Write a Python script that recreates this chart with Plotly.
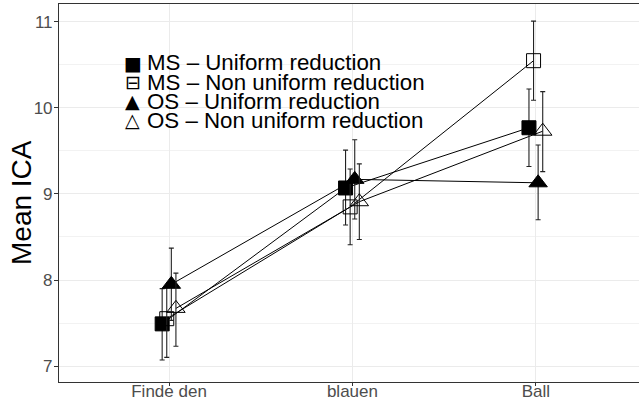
import plotly.graph_objects as go

categories = ["Finde den", "blauen", "Ball"]
series_names = [
    "MS – Uniform reduction",
    "MS – Non uniform reduction",
    "OS – Uniform reduction",
    "OS – Non uniform reduction",
]
ms_uniform_mean = [7.49, 9.07, 9.77]
ms_uniform_hi = [7.90, 9.51, 10.22]
ms_uniform_lo = [7.07, 8.64, 9.32]

ms_nonuniform_mean = [7.55, 8.85, 10.55]
ms_nonuniform_hi = [7.91, 9.29, 11.01]
ms_nonuniform_lo = [7.10, 8.41, 10.09]

os_uniform_mean = [7.95, 9.17, 9.13]
os_uniform_hi = [8.37, 9.63, 9.57]
os_uniform_lo = [7.53, 8.71, 8.70]

os_nonuniform_mean = [7.67, 8.91, 9.73]
os_nonuniform_hi = [8.08, 9.35, 10.19]
os_nonuniform_lo = [7.23, 8.47, 9.26]

y_ticks = [7, 8, 9, 10, 11]
y_title = "Mean ICA"

means = [ms_uniform_mean, ms_nonuniform_mean, os_uniform_mean, os_nonuniform_mean]
his = [ms_uniform_hi, ms_nonuniform_hi, os_uniform_hi, os_nonuniform_hi]
los = [ms_uniform_lo, ms_nonuniform_lo, os_uniform_lo, os_nonuniform_lo]

symbols = ["square", "square-open", "triangle-up", "triangle-up-open"]
sizes = [14, 14, 16, 16]
dodge = [-0.0375, -0.0125, 0.0125, 0.0375]
legend_glyphs = ["■", "⊟", "▲", "△"]

fig = go.Figure()

for i in range(4):
    xs = [j + dodge[i] for j in range(len(categories))]
    fig.add_trace(go.Scatter(
        x=xs, y=means[i], mode="lines",
        line=dict(color="black", width=1), showlegend=False, hoverinfo="skip"))

for i in range(4):
    xs = [j + dodge[i] for j in range(len(categories))]
    fig.add_trace(go.Scatter(
        x=xs, y=means[i], mode="markers", name=series_names[i],
        marker=dict(symbol=symbols[i], size=sizes[i], color="black",
                    line=dict(color="black", width=1)),
        error_y=dict(type="data", symmetric=False,
                     array=[h - m for h, m in zip(his[i], means[i])],
                     arrayminus=[m - l for m, l in zip(means[i], los[i])],
                     color="#222222", thickness=1.1, width=2.5),
        showlegend=False))

L, R, T, B = 59, 639, 4, 382
W, H = R - L, B - T
row_y = [62.5, 82.0, 101.2, 120.2]
for i in range(4):
    yp = (B - row_y[i]) / H
    fig.add_annotation(x=(132.5 - L) / W, y=yp, xref="paper", yref="paper",
                       text=legend_glyphs[i], showarrow=False, xanchor="center",
                       yanchor="middle", font=dict(family="DejaVu Sans", size=19, color="black"))
    fig.add_annotation(x=(144.5 - L) / W, y=yp, xref="paper", yref="paper",
                       text=series_names[i], showarrow=False, xanchor="left",
                       yanchor="middle", font=dict(family="Liberation Sans", size=22.3, color="black"))

# y-axis title
fig.add_annotation(x=(21 - L) / W, y=(B - 203) / H, xref="paper", yref="paper",
                   text=y_title, textangle=-90, showarrow=False,
                   xanchor="center", yanchor="middle",
                   font=dict(family="Liberation Sans", size=28, color="black"))

fig.update_layout(
    width=639, height=400,
    margin=dict(l=L, r=639 - R, t=T, b=400 - B),
    paper_bgcolor="white", plot_bgcolor="white",
    font=dict(family="Liberation Sans"),
    xaxis=dict(range=[-0.6, 2.5625], tickvals=[0, 1, 2], ticktext=categories,
               automargin=False,
               showgrid=True, gridcolor="#ebebeb", gridwidth=1.1,
               showline=True, linecolor="#333333", linewidth=1.1, mirror=True,
               ticks="outside", ticklen=3, tickcolor="#333333", ticklabelstandoff=-9,
               tickfont=dict(size=17, color="#4d4d4d"), zeroline=False),
    yaxis=dict(range=[6.814, 11.209], tickvals=y_ticks, automargin=False,
               showgrid=True, gridcolor="#ebebeb", gridwidth=1.1,
               minor=dict(dtick=0.5, tick0=6.5, showgrid=True, gridcolor="#f2f2f2", gridwidth=0.8),
               showline=True, linecolor="#333333", linewidth=1.1,
               ticks="outside", ticklen=4, tickcolor="#333333", ticklabelstandoff=-2,
               tickfont=dict(size=17, color="#4d4d4d"), zeroline=False),
)

fig.write_html("out.html", config={"displayModeBar": False},
               post_script="document.body.style.margin='0';document.body.style.overflow='hidden';")
